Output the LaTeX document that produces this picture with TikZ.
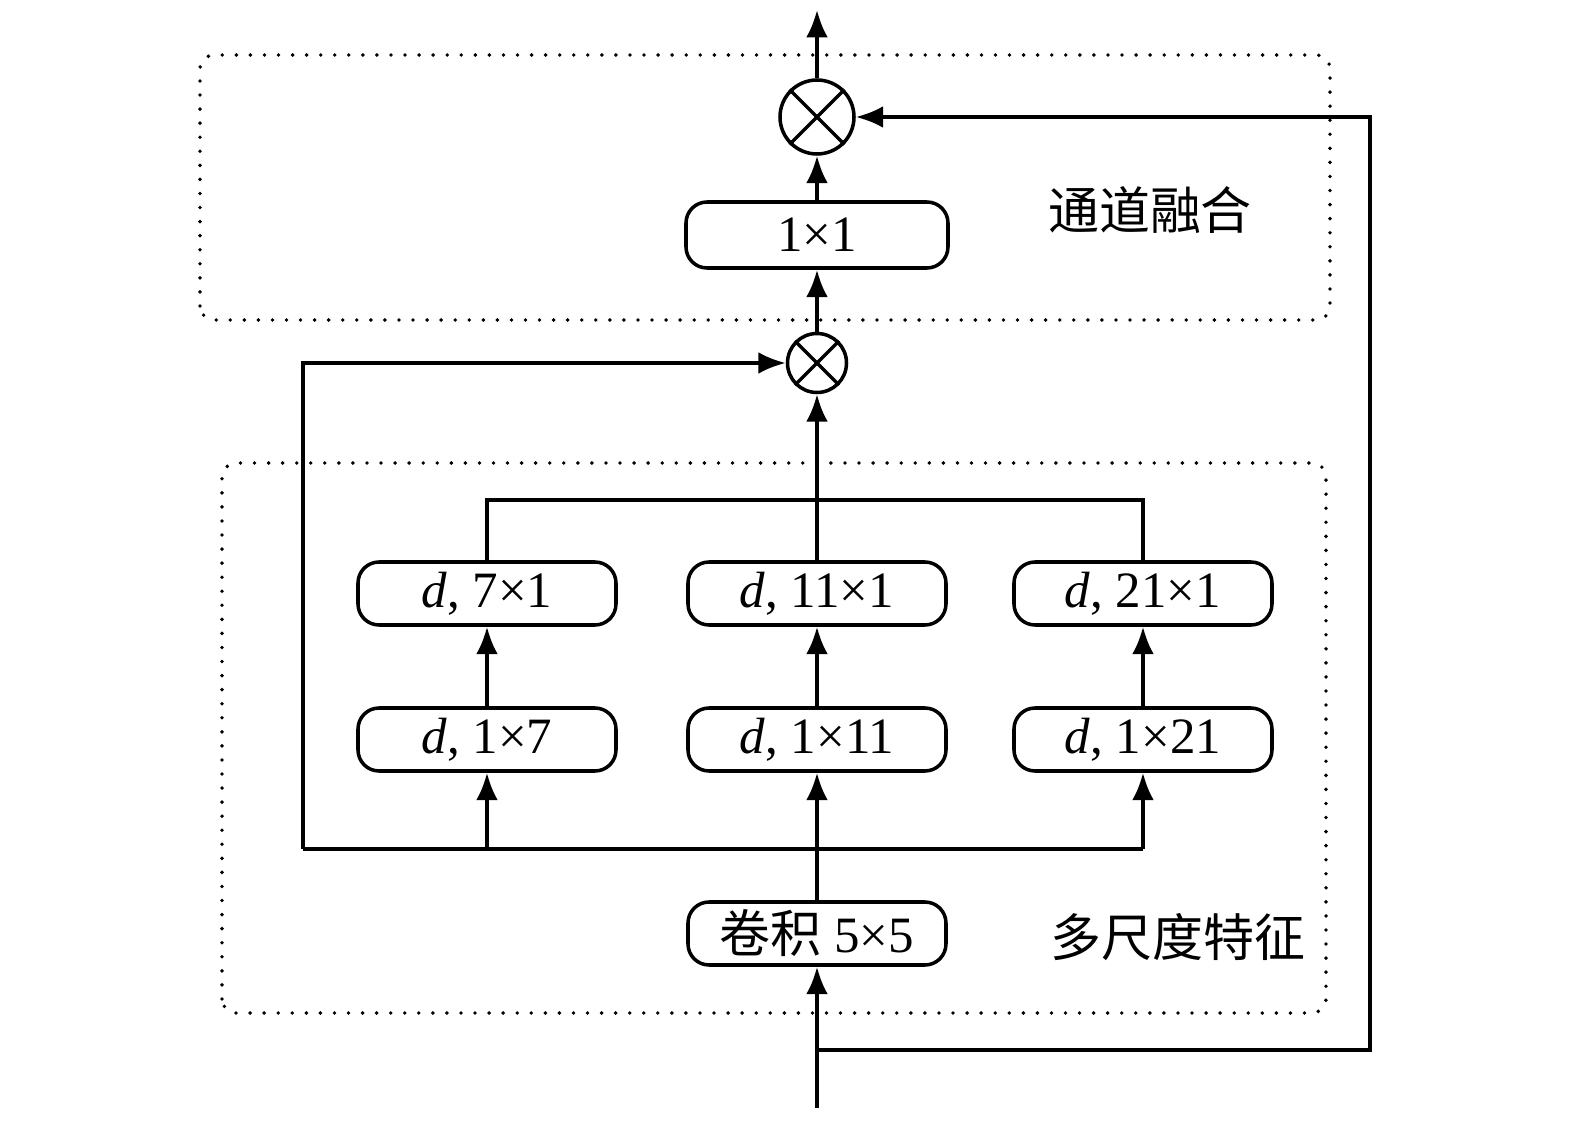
\documentclass[tikz,border=0pt]{standalone}
\usepackage{fontspec}
\setmainfont{Liberation Serif}
\newfontfamily\cjk{Noto Sans CJK SC}
\usetikzlibrary{arrows.meta}

\tikzset{
  opbox/.style={draw,rounded corners=6pt,minimum width=2.58cm,minimum height=0.63cm,inner sep=0pt},
  mult/.style={draw,circle,inner sep=0pt},
  group/.style={line width=1.1pt,dash pattern=on 0pt off 4pt,line cap=round,rounded corners=4pt},
}

\begin{document}
\begin{tikzpicture}
        [line width=1pt,>={Latex[length=7.8pt,width=6.2pt]},font=\fontsize{14.5}{16}\selectfont]
        \useasboundingbox (0,0) rectangle (15.75,11.22);

        % grouping frames
        \draw[group] (2.00,8.02) rectangle (13.30,10.67);
        \draw[group] (2.22,1.09) rectangle (13.26,6.59);
        \node (lblfuse) at (11.50,9.12) {\cjk 通道融合};
        \node (lblmulti) at (11.78,1.85) {\cjk 多尺度特征};

        % blocks
        \node[mult,minimum size=0.74cm] (mulT) at (8.17,10.05) {};
        \node[opbox,minimum width=2.62cm,minimum height=0.66cm] (fuse) at (8.17,8.87) {1×1};
        \node[mult,minimum size=0.59cm] (mulB) at (8.17,7.59) {};
        \node[opbox] (conv) at (8.17,1.885) {{\cjk 卷积} 5×5};

        \node[opbox] (a1) at (4.87,5.285) {\textit{d}, 7×1};
        \node[opbox] (a2) at (8.17,5.285) {\textit{d}, 11×1};
        \node[opbox] (a3) at (11.43,5.285) {\textit{d}, 21×1};
        \node[opbox] (b1) at (4.87,3.825) {\textit{d}, 1×7};
        \node[opbox] (b2) at (8.17,3.825) {\textit{d}, 1×11};
        \node[opbox] (b3) at (11.43,3.825) {\textit{d}, 1×21};

        \foreach \m in {mulT,mulB}
        {\draw (\m.north west) -- (\m.south east);
         \draw (\m.north east) -- (\m.south west);}

        % helper points
        \coordinate (out) at (8.17,11.12);
        \coordinate (in) at (8.17,0.14);
        \coordinate (fb) at (8.17,0.72);
        \coordinate (fbR) at (13.70,0.72);
        \coordinate (busL) at (3.03,2.73);
        \coordinate (busR) at (11.43,2.73);
        \coordinate (cat) at (8.17,6.22);

        % connectors
        \draw[->] (in) -- (conv.south);
        \draw[->] (fb) -- (fbR) |- (mulT.east);
        \draw[->] (conv.north) -- (b2.south);
        \draw (busL) -- (busR);
        \draw[->] (b1 |- busL) -- (b1.south);
        \draw[->] (busR) -- (b3.south);
        \draw[->] (busL) |- (mulB.west);

        \foreach \i in {1,2,3}
        {\draw[->] (b\i.north) -- (a\i.south);}

        \draw (a1.north) |- (cat) -| (a3.north);
        \draw[->] (a2.north) -- (mulB.south);
        \draw[->] (mulB.north) -- (fuse.south);
        \draw[->] (fuse.north) -- (mulT.south);
        \draw[->] (mulT.north) -- (out);
      \end{tikzpicture}
\end{document}
